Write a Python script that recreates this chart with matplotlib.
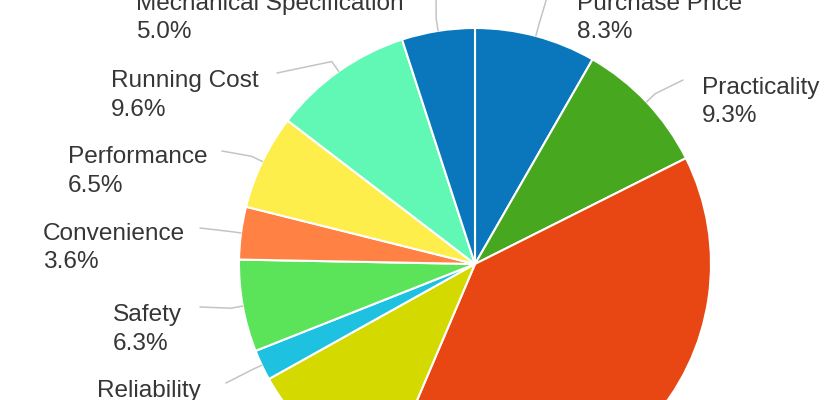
import numpy as np
import matplotlib
matplotlib.use("Agg")
import matplotlib.pyplot as plt

# slices, clockwise from 12 o'clock
categories = ['Purchase Price', 'Practicality', None, None, 'Reliability',
              'Safety', 'Convenience', 'Performance', 'Running Cost',
              'Mechanical Specification']
shares = [8.3, 9.3, 38.8, 10.5, 2.1, 6.3, 3.6, 6.5, 9.6, 5.0]
colors = ['#0a77bd', '#47a71f', '#e84612', '#d4da00', '#1ec2e0',
          '#5be35a', '#ff8144', '#fdee4b', '#60f8b4', '#0a77bd']

# label layout in image pixels: left x, baseline y of first line, leader end
label_pos = {
    'Purchase Price': (577, 10, (548, -6)),
    'Practicality': (702, 94, (683, 80)),
    'Reliability': (97, 397, (226, 383)),
    'Safety': (113, 321, (200, 307)),
    'Convenience': (43, 240, (200, 228)),
    'Performance': (68, 163, (222, 151)),
    'Running Cost': (111, 87, (277, 73)),
    'Mechanical Specification': (136, 10, (436, -6)),
}

W, H = 836, 400
def fy(y):
    return H - y

fig = plt.figure(figsize=(W / 100, H / 100), dpi=100)
ax = fig.add_axes([0, 0, 1, 1])

cx, cy, R = 475, fy(264), 236
wedges, _ = ax.pie(shares, colors=colors, startangle=90, counterclock=False,
                   center=(cx, cy), radius=R, frame=True,
                   wedgeprops=dict(edgecolor='white', linewidth=1.5))

ax.set_xlim(0, W)
ax.set_ylim(0, H)
ax.set_aspect('equal')
ax.set_axis_off()

font = dict(family='Liberation Sans', size=17.6, color='#363636')
for w, name, val in zip(wedges, categories, shares):
    if name is None:
        continue
    x, y, end = label_pos[name]
    mid = np.deg2rad((w.theta1 + w.theta2) / 2)
    rim = (cx + R * np.cos(mid), cy + R * np.sin(mid))
    elbow = (cx + (R + 12) * np.cos(mid), cy + (R + 12) * np.sin(mid))
    ax.plot([rim[0], elbow[0], end[0]], [rim[1], elbow[1], fy(end[1])],
            color='#c4c4c4', lw=1.1, solid_capstyle='round', clip_on=False)
    ax.text(x, fy(y), name, ha='left', va='baseline', **font)
    ax.text(x, fy(y + 28.5), f'{val:.1f}%', ha='left', va='baseline', **font)

fig.savefig('out.png', dpi=100, facecolor='white')
